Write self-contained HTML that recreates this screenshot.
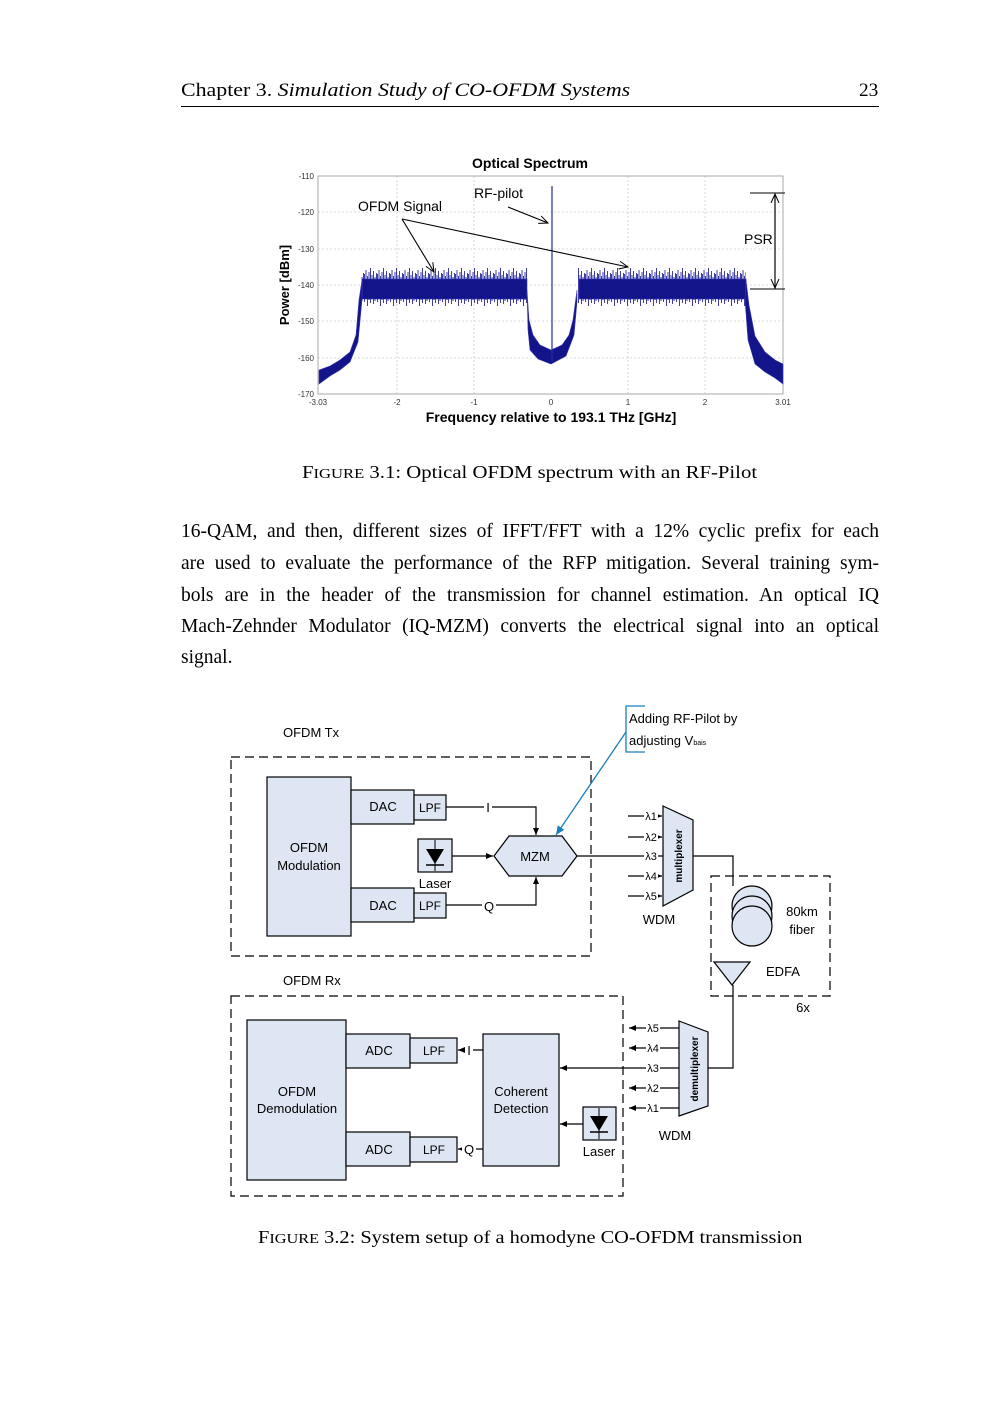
<!DOCTYPE html>
<html><head><meta charset="utf-8"><style>
body{margin:0;background:#fff}
#p{position:relative;width:1000px;height:1414px;overflow:hidden;font-family:"Liberation Serif",serif;color:#000}
.t{position:absolute;white-space:nowrap;transform-origin:0 0}
.ln{position:absolute;left:181px;width:698px;font-size:19.5px;text-align:justify;text-align-last:justify;white-space:nowrap;height:24px}
</style></head><body><div id="p">
<div class="t" style="left:181px;top:80px;font-size:19.3px;transform:scaleX(1.135)">Chapter 3. <i>Simulation Study of CO-OFDM Systems</i></div>
<div class="t" style="left:859px;top:80px;font-size:19.3px">23</div>
<div style="position:absolute;left:181px;top:106px;width:698px;border-top:1px solid #000"></div>

<div class="t" style="left:302px;top:462px;font-size:17.5px;transform:scaleX(1.185)">F<span style="font-size:14px">IGURE</span> 3.1: Optical OFDM spectrum with an RF-Pilot</div>
<div class="ln" style="top:521px">16-QAM, and then, different sizes of IFFT/FFT with a 12% cyclic prefix for each</div>
<div class="ln" style="top:553px">are used to evaluate the performance of the RFP mitigation. Several training sym-</div>
<div class="ln" style="top:585px">bols are in the header of the transmission for channel estimation. An optical IQ</div>
<div class="ln" style="top:616px">Mach-Zehnder Modulator (IQ-MZM) converts the electrical signal into an optical</div>
<div class="t" style="left:181px;top:647px;font-size:19.5px">signal.</div>
<div class="t" style="left:258px;top:1227px;font-size:17.5px;transform:scaleX(1.163)">F<span style="font-size:14px">IGURE</span> 3.2: System setup of a homodyne CO-OFDM transmission</div>

<svg width="1000" height="1414" style="position:absolute;left:0;top:0" font-family="Liberation Sans, sans-serif">
<defs><marker id="a" markerWidth="8" markerHeight="8" refX="7" refY="4" orient="auto" markerUnits="userSpaceOnUse"><path d="M0,1 L7,4 L0,7z" fill="#000"/></marker>
<marker id="b" markerWidth="10" markerHeight="10" refX="9" refY="5" orient="auto" markerUnits="userSpaceOnUse"><path d="M0,1 L9,5 L0,9z" fill="#1a7fc0"/></marker>
<marker id="o" markerWidth="10" markerHeight="10" refX="9" refY="5" orient="auto" markerUnits="userSpaceOnUse"><path d="M0,1 L9,5 L0,9" fill="none" stroke="#000"/></marker>
<pattern id="nz" width="13" height="40" patternUnits="userSpaceOnUse" x="0" y="268">
<g stroke="#2828a0" stroke-width="0.9">
<line x1="0.5" y1="6" x2="0.5" y2="34"/><line x1="2" y1="2" x2="2" y2="30"/><line x1="3.5" y1="8" x2="3.5" y2="38"/><line x1="5" y1="4" x2="5" y2="32"/><line x1="6.5" y1="0" x2="6.5" y2="35"/><line x1="8" y1="7" x2="8" y2="31"/><line x1="9.5" y1="3" x2="9.5" y2="36"/><line x1="11" y1="9" x2="11" y2="33"/><line x1="12.5" y1="5" x2="12.5" y2="29"/></g></pattern>
</defs>
<!-- plot -->
<g stroke="#ccc" stroke-width="0.8" stroke-dasharray="2,2">
<line x1="318" y1="212" x2="783" y2="212"/><line x1="318" y1="249" x2="783" y2="249"/><line x1="318" y1="285" x2="783" y2="285"/><line x1="318" y1="321" x2="783" y2="321"/><line x1="318" y1="358" x2="783" y2="358"/>
<line x1="397" y1="176" x2="397" y2="394"/><line x1="474" y1="176" x2="474" y2="394"/><line x1="628" y1="176" x2="628" y2="394"/><line x1="705" y1="176" x2="705" y2="394"/>
</g>
<rect x="318" y="176" width="465" height="218" fill="none" stroke="#aaa"/>
<g font-size="8" fill="#333" text-anchor="end">
<text x="314" y="179">-110</text><text x="314" y="215">-120</text><text x="314" y="252">-130</text><text x="314" y="288">-140</text><text x="314" y="324">-150</text><text x="314" y="361">-160</text><text x="314" y="397">-170</text></g>
<g font-size="8" fill="#333" text-anchor="middle"><text x="318" y="405">-3.03</text><text x="397" y="405">-2</text><text x="474" y="405">-1</text><text x="551" y="405">0</text><text x="628" y="405">1</text><text x="705" y="405">2</text><text x="783" y="405">3.01</text></g>
<rect x="361" y="268" width="166" height="40" fill="url(#nz)"/>
<rect x="578" y="268" width="168" height="40" fill="url(#nz)"/>
<g fill="#14148a" stroke="#3a3ab0" stroke-width="0.6">
<rect x="362" y="279" width="165" height="20"/><rect x="579" y="279" width="167" height="20"/>
<polygon points="319,370 330,366 340,360 350,352 356,335 359,300 362,280 362,300 358,342 350,362 340,370 330,376 319,384"/>
<polygon points="527,290 529,320 533,335 540,345 551,350 562,345 569,335 573,320 577,290 577,302 574,335 566,356 551,364 538,359 530,350 528,330"/>
<polygon points="746,280 749,305 755,336 765,352 775,360 783,364 783,384 775,378 765,372 755,364 748,340 745,300"/>
</g>
<line x1="552" y1="186" x2="552" y2="362" stroke="#2a2aa0" stroke-width="1.2"/>
<text x="530" y="168" font-size="14" font-weight="bold" text-anchor="middle">Optical Spectrum</text>
<text x="551" y="422" font-size="14" font-weight="bold" text-anchor="middle">Frequency relative to 193.1 THz [GHz]</text>
<text transform="translate(289,285) rotate(-90)" font-size="13" font-weight="bold" text-anchor="middle">Power [dBm]</text>
<g font-family="Liberation Sans, sans-serif" font-size="14"><text x="358" y="211">OFDM Signal</text><text x="474" y="198">RF-pilot</text><text x="744" y="244">PSR</text></g>
<g stroke="#000" stroke-width="1.1" fill="none">
<line x1="402" y1="219" x2="434" y2="272" marker-end="url(#o)"/><line x1="402" y1="219" x2="628" y2="267" marker-end="url(#o)"/>
<line x1="508" y1="207" x2="548" y2="223" marker-end="url(#o)"/>
<line x1="750" y1="193" x2="785" y2="193"/><line x1="750" y1="289" x2="785" y2="289"/>
<line x1="775" y1="289" x2="775" y2="194" marker-end="url(#o)"/><line x1="775" y1="194" x2="775" y2="288" marker-end="url(#o)"/>
</g>

<!-- diagram -->
<g font-size="13" font-family="Liberation Sans, sans-serif">
<text x="283" y="737">OFDM Tx</text><text x="283" y="985">OFDM Rx</text>
<g fill="none" stroke="#000" stroke-width="1.2" stroke-dasharray="9,5">
<rect x="231" y="757" width="360" height="199"/><rect x="231" y="996" width="392" height="200"/><rect x="711" y="876" width="119" height="120"/></g>
<g fill="#dde6f2" stroke="#000" stroke-width="1.2">
<rect x="267" y="777" width="84" height="159"/><rect x="351" y="790" width="63" height="34"/><rect x="414" y="795" width="32" height="25"/>
<rect x="351" y="888" width="63" height="34"/><rect x="414" y="893" width="32" height="25"/>
<rect x="418" y="839" width="34" height="33"/>
<polygon points="494,856 509,836 562,836 577,856 562,876 509,876"/>
<polygon points="663,806 693,820 693,890 663,906"/>
<rect x="247" y="1020" width="99" height="160"/><rect x="346" y="1034" width="64" height="34"/><rect x="410" y="1038" width="47" height="25"/>
<rect x="346" y="1132" width="64" height="34"/><rect x="410" y="1137" width="47" height="25"/>
<rect x="483" y="1034" width="76" height="132"/><rect x="583" y="1107" width="33" height="33"/>
<polygon points="679,1021 708,1032 708,1106 679,1116"/>
<circle cx="752" cy="906" r="20"/><circle cx="752" cy="916" r="20"/><circle cx="752" cy="926" r="20"/>
<polygon points="714,962 750,962 732,985"/>
</g>
<g fill="#000"><path d="M426,849 L444,849 L435,864z"/><line x1="426" y1="865" x2="444" y2="865" stroke="#000" stroke-width="1.5"/><line x1="435" y1="840" x2="435" y2="871" stroke="#000"/>
<path d="M590,1116 L608,1116 L599,1131z"/><line x1="590" y1="1132" x2="608" y2="1132" stroke="#000" stroke-width="1.5"/><line x1="599" y1="1108" x2="599" y2="1139" stroke="#000"/></g>
<g stroke="#000" stroke-width="1.2" fill="none">
<polyline points="446,807 536,807 536,835" marker-end="url(#a)"/><polyline points="446,905 536,905 536,877" marker-end="url(#a)"/>
<line x1="452" y1="856" x2="493" y2="856" marker-end="url(#a)"/>
<polyline points="577,856 663,856"/><polyline points="693,856 733,856 733,886"/>
<line x1="628" y1="816" x2="662" y2="816" marker-end="url(#a)"/><line x1="628" y1="837" x2="662" y2="837" marker-end="url(#a)"/><line x1="628" y1="876" x2="662" y2="876" marker-end="url(#a)"/><line x1="628" y1="896" x2="662" y2="896" marker-end="url(#a)"/>
<polyline points="733,985 733,1068 708,1068"/>
<line x1="679" y1="1068" x2="560" y2="1068" marker-end="url(#a)"/>
<line x1="679" y1="1028" x2="629" y2="1028" marker-end="url(#a)"/><line x1="679" y1="1048" x2="629" y2="1048" marker-end="url(#a)"/><line x1="679" y1="1088" x2="629" y2="1088" marker-end="url(#a)"/><line x1="679" y1="1108" x2="629" y2="1108" marker-end="url(#a)"/>
<line x1="583" y1="1124" x2="560" y2="1124" marker-end="url(#a)"/>
<line x1="483" y1="1050" x2="458" y2="1050" marker-end="url(#a)"/><line x1="483" y1="1149" x2="458" y2="1149" marker-end="url(#a)"/>
</g>
<g fill="#fff"><rect x="484" y="799" width="8" height="14"/><rect x="482" y="898" width="14" height="14"/><rect x="465" y="1043" width="8" height="14"/><rect x="462" y="1142" width="14" height="14"/>
<rect x="644" y="810" width="14" height="12"/><rect x="644" y="831" width="14" height="12"/><rect x="644" y="850" width="14" height="12"/><rect x="644" y="870" width="14" height="12"/><rect x="644" y="890" width="14" height="12"/>
<rect x="646" y="1022" width="14" height="12"/><rect x="646" y="1042" width="14" height="12"/><rect x="646" y="1062" width="14" height="12"/><rect x="646" y="1082" width="14" height="12"/><rect x="646" y="1102" width="14" height="12"/></g>
<g font-size="13" text-anchor="middle"><text x="488" y="812">I</text><text x="489" y="911">Q</text><text x="469" y="1055">I</text><text x="469" y="1154">Q</text></g>
<g font-size="11" text-anchor="middle">
<text x="651" y="820">λ1</text><text x="651" y="841">λ2</text><text x="651" y="860">λ3</text><text x="651" y="880">λ4</text><text x="651" y="900">λ5</text>
<text x="653" y="1032">λ5</text><text x="653" y="1052">λ4</text><text x="653" y="1072">λ3</text><text x="653" y="1092">λ2</text><text x="653" y="1112">λ1</text></g>
<g text-anchor="middle"><text x="309" y="852">OFDM</text><text x="309" y="870">Modulation</text><text x="383" y="811">DAC</text><text x="430" y="812" font-size="12">LPF</text><text x="383" y="910">DAC</text><text x="430" y="910" font-size="12">LPF</text>
<text x="435" y="888">Laser</text><text x="535" y="861">MZM</text><text x="659" y="924">WDM</text>
<text x="297" y="1096">OFDM</text><text x="297" y="1113">Demodulation</text><text x="379" y="1055">ADC</text><text x="434" y="1055" font-size="12">LPF</text><text x="379" y="1154">ADC</text><text x="434" y="1154" font-size="12">LPF</text>
<text x="521" y="1096">Coherent</text><text x="521" y="1113">Detection</text><text x="599" y="1156">Laser</text><text x="675" y="1140">WDM</text>
<text x="802" y="916">80km</text><text x="802" y="934">fiber</text><text x="783" y="976">EDFA</text><text x="803" y="1012">6x</text></g>
<text transform="translate(682,856) rotate(-90)" font-size="10" font-weight="bold" text-anchor="middle">multiplexer</text>
<text transform="translate(698,1069) rotate(-90)" font-size="10" font-weight="bold" text-anchor="middle">demultiplexer</text>
<polyline points="645,706 626,706 626,752 645,752" fill="none" stroke="#1a7fc0" stroke-width="1.3"/>
<line x1="626" y1="732" x2="556" y2="835" stroke="#1a7fc0" stroke-width="1.3" marker-end="url(#b)"/>
<text x="629" y="723">Adding RF-Pilot by</text><text x="629" y="745">adjusting V<tspan font-size="7">bais</tspan></text>
</g>
</svg>
</div></body></html>
